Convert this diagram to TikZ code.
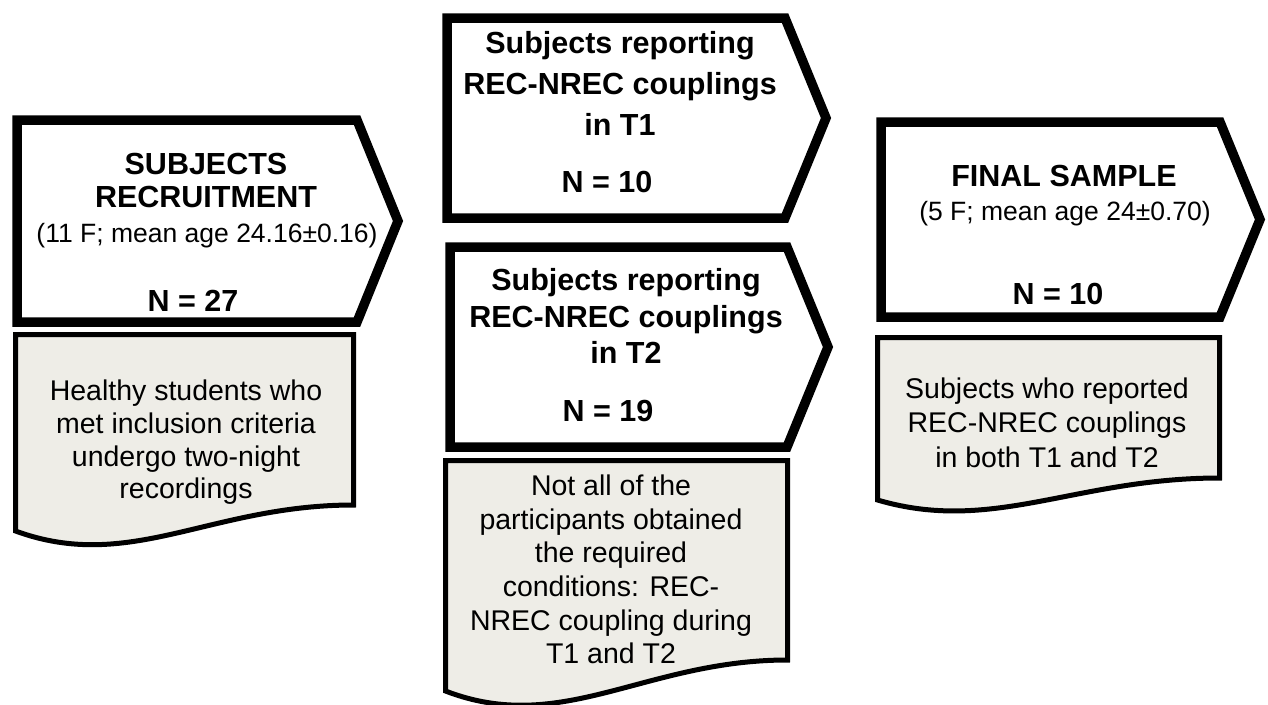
\documentclass[tikz,border=0pt]{standalone}
\usepackage{fontspec}
\setmainfont{Liberation Sans}
\definecolor{docgray}{RGB}{238,237,231}

\begin{document}
\begin{tikzpicture}[x=1pt,y=-1pt,
   pent/.style={draw=black,fill=white,line width=9.5pt,line join=miter},
   doc/.style={draw=black,fill=docgray,line width=5pt,line join=miter},
   hd/.style={font=\fontsize{30.5}{#1}\selectfont\bfseries,align=center,anchor=north,inner sep=0pt},
   hd/.default=36,
   sm/.style={font=\fontsize{26.5}{32}\selectfont,align=center,anchor=north,inner sep=0pt},
   txt/.style={font=\fontsize{28.5}{#1}\selectfont,align=center,anchor=north,inner sep=0pt}]
  \clip (0,0) rectangle (1268,704);
  % arrow boxes
  \draw[pent] (17,120)--(357,120)--(398,221)--(357,322)--(17,322)--cycle;
  \draw[pent] (447,18)--(785,18)--(826,118)--(785,218)--(447,218)--cycle;
  \draw[pent] (450,247)--(787,247)--(828,347)--(787,447)--(450,447)--cycle;
  \draw[pent] (881,122)--(1220,122)--(1260,219.5)--(1220,317)--(881,317)--cycle;
  % note sheets
  \draw[doc] (15.5,334.5)--(353.5,334.5)--(353.5,505)
     .. controls (210,505) and (130,573) .. (15.5,531)--cycle;
  \draw[doc] (445.5,460.5)--(787.5,460.5)--(787.5,660)
     .. controls (645,660) and (562,736) .. (445.5,691)--cycle;
  \draw[doc] (877.5,337.5)--(1219.5,337.5)--(1219.5,478)
     .. controls (1075,478) and (993,534) .. (877.5,500)--cycle;
  % recruitment column
  \node[hd=33] (rec-title) at (206,153.2){SUBJECTS\\RECRUITMENT};
  \node[sm] (rec-info) at (207,223){(11 F; mean age 24.16±0.16)};
  \node[hd] (rec-n) at (193,290.2){N = 27};
  \node[txt=32.8] (rec-note) at (186,379.6){Healthy students who\\met inclusion criteria\\undergo two-night\\recordings};
  % T1 and T2 column
  \node[hd=41] (t1-title) at (620,31.2){Subjects reporting\\REC-NREC couplings\\in T1};
  \node[hd] (t1-n) at (607,171.2){N = 10};
  \node[hd=36.5] (t2-title) at (626,268.2){Subjects reporting\\REC-NREC couplings\\in T2};
  \node[hd] (t2-n) at (608,399.9){N = 19};
  \node[txt=33.7] (t2-note) at (611,474.6){Not all of the\\participants obtained\\the required\\conditions: REC-\\NREC coupling during\\T1 and T2};
  % final column
  \node[hd] (fin-title) at (1064,164.9){FINAL SAMPLE};
  \node[sm] (fin-info) at (1065,201){(5 F; mean age 24±0.70)};
  \node[hd] (fin-n) at (1058,283.2){N = 10};
  \node[txt=34.2] (fin-note) at (1047,377.9){Subjects who reported\\REC-NREC couplings\\in both T1 and T2};
\end{tikzpicture}
\end{document}
